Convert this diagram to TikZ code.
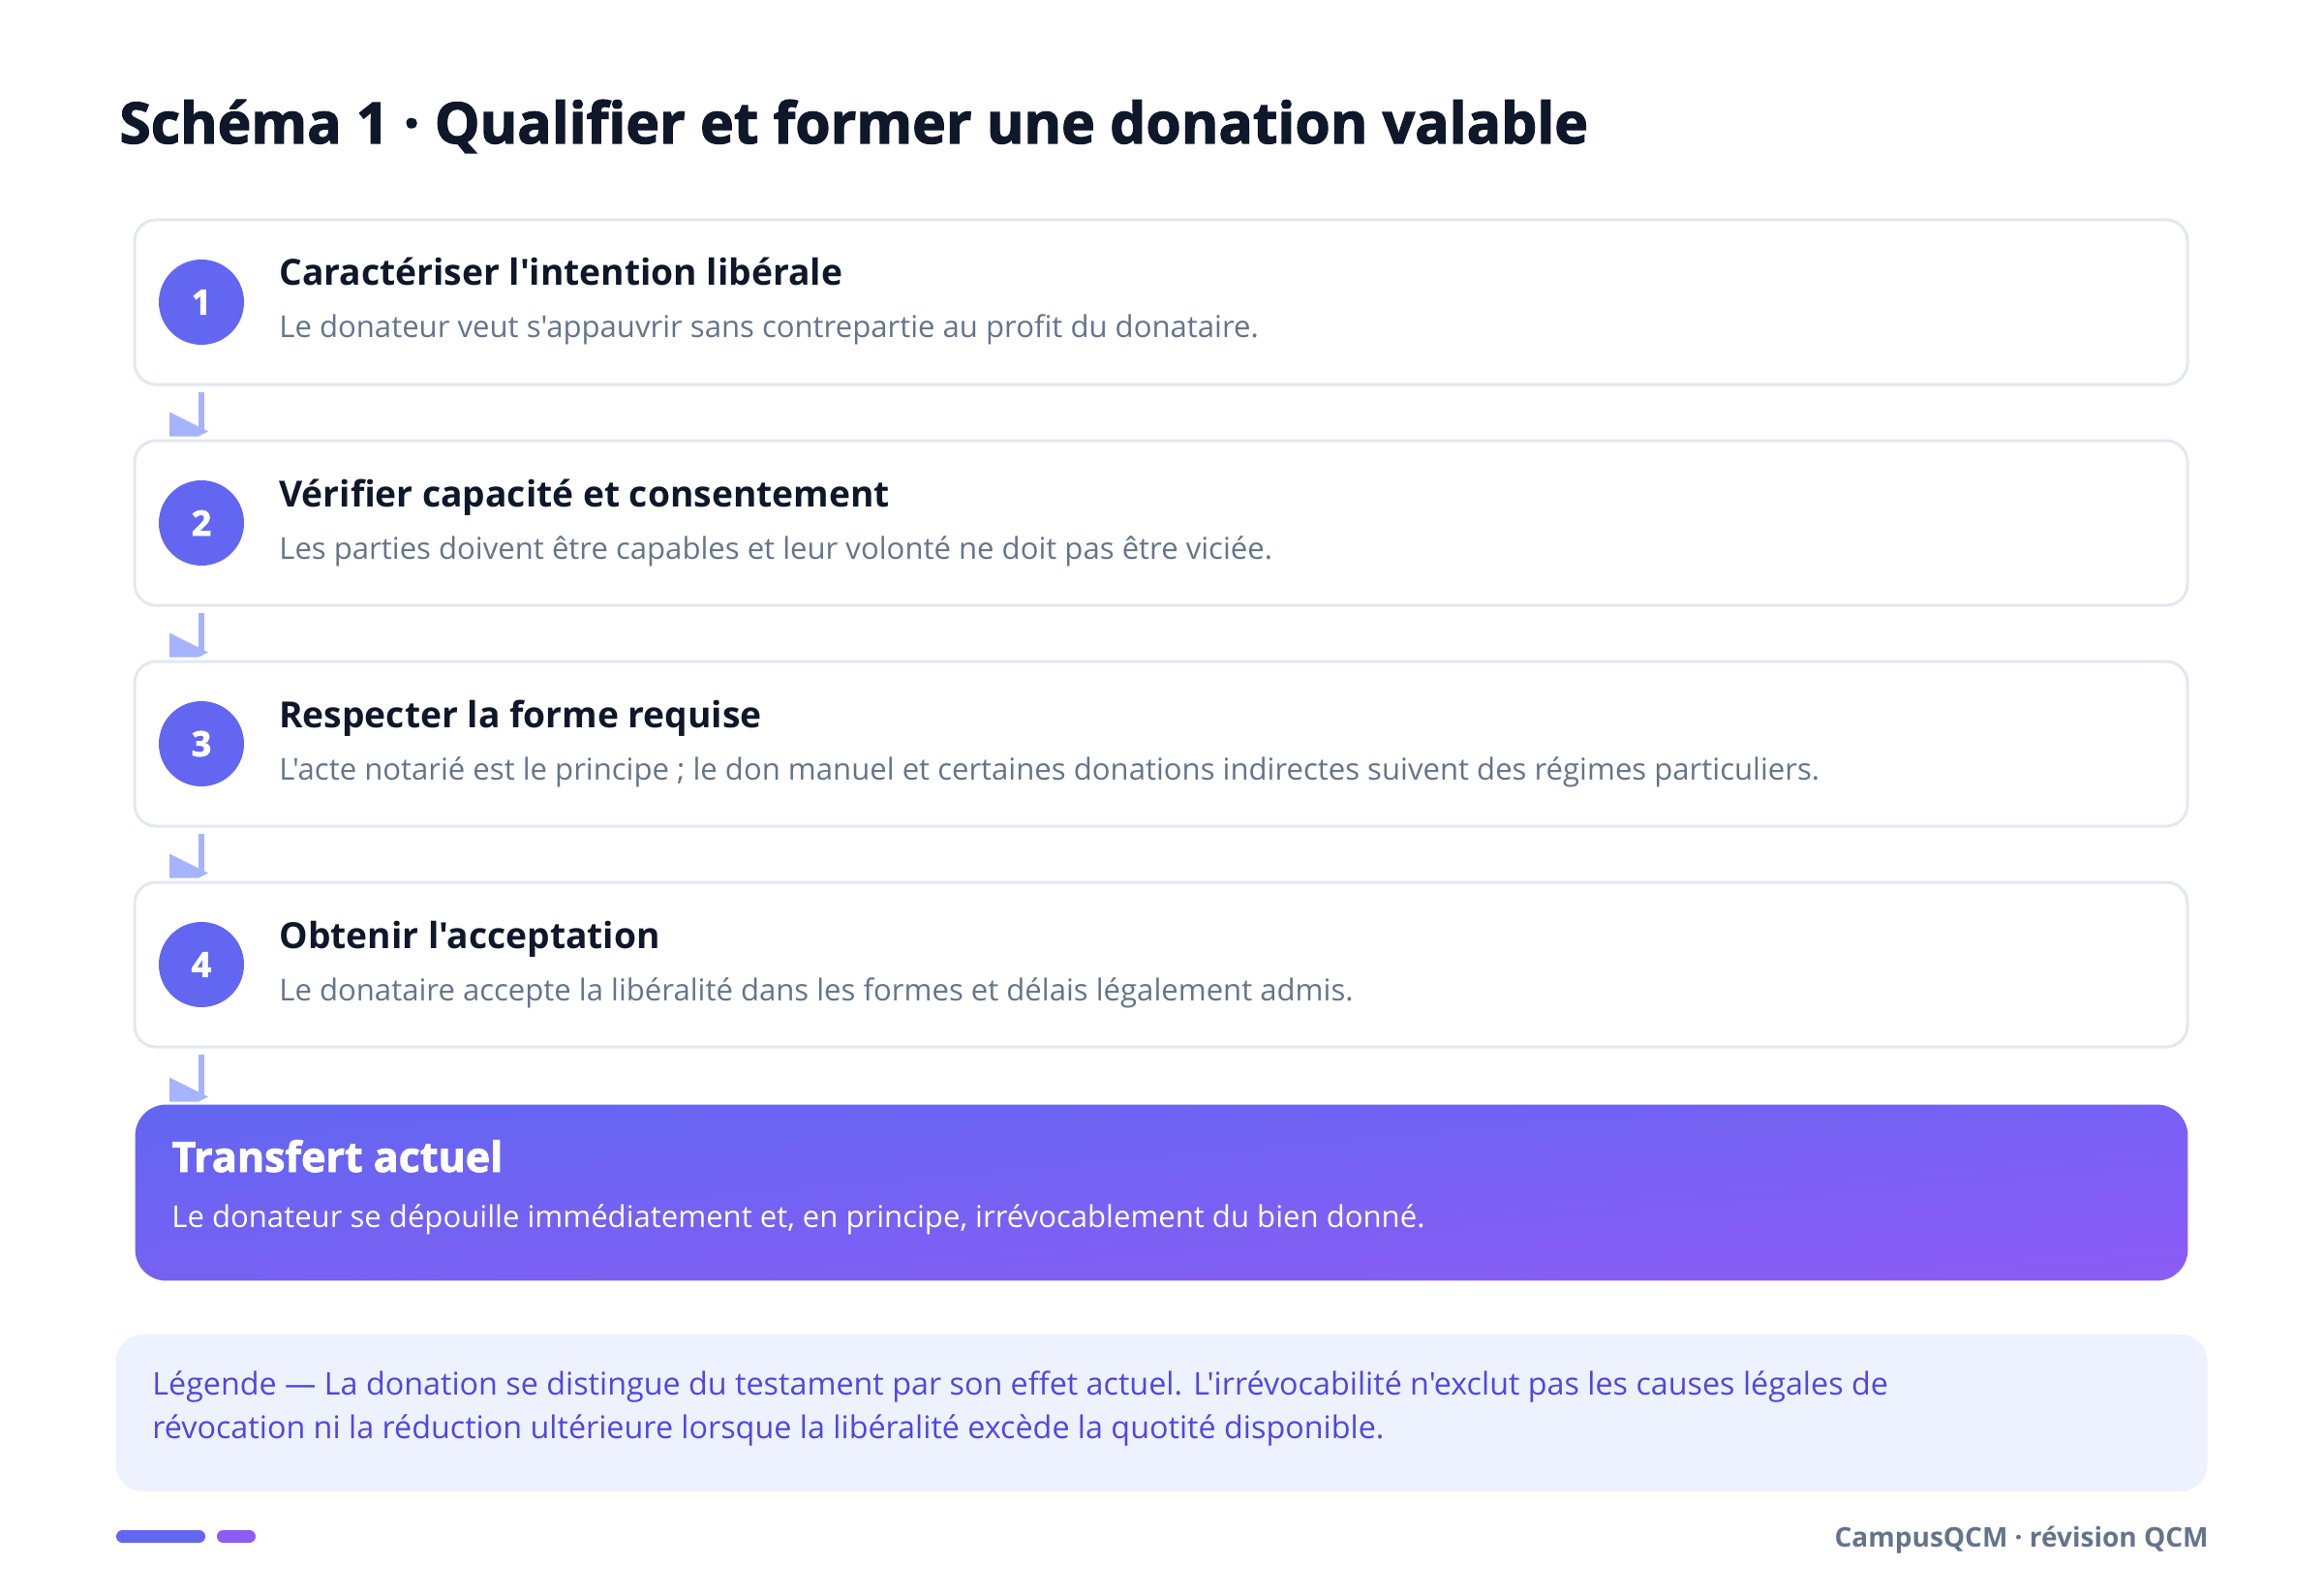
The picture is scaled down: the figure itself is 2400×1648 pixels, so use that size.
\documentclass[tikz,border=0pt]{standalone}
\usepackage{fontspec}
\setmainfont{Open Sans}[Ligatures=TeXOff]
\newfontfamily\heavyfont{Open Sans}[Ligatures=TeXOff, BoldFeatures={FakeBold=2}]
\usetikzlibrary{calc}
\definecolor{ink}{HTML}{0F172A}
\definecolor{muted}{HTML}{64748B}
\definecolor{bordergray}{HTML}{E2E8F0}
\definecolor{indigo}{HTML}{6366F1}
\definecolor{violet}{HTML}{8B5CF6}
\definecolor{arrowc}{HTML}{A5B4FC}
\definecolor{legendbg}{HTML}{EEF2FF}
\definecolor{legendtx}{HTML}{4F46E5}
\tikzset{
  stepbox/.style={draw=bordergray, line width=1.5pt, fill=white, rounded corners=11pt,
    minimum width=1060pt, minimum height=85pt, inner sep=0pt},
  numdot/.style={circle, fill=indigo, minimum size=44pt, inner sep=0pt, text=white,
    font=\heavyfont\bfseries\fontsize{18}{20}\selectfont},
  steptitle/.style={anchor=base west, inner sep=0pt, text=ink, font=\bfseries\fontsize{18.6}{23}\selectfont},
  stepdesc/.style={anchor=base west, inner sep=0pt, text=muted, font=\fontsize{15.55}{20}\selectfont},
  flowline/.style={draw=arrowc, line width=3pt},
  flowhead/.style={fill=arrowc},
}
\begin{document}
\begin{tikzpicture}[x=0.5pt, y=-0.5pt]
\useasboundingbox[fill=white] (0,0) rectangle (2400,1648);
% title
\node[anchor=base west, inner sep=0pt, text=ink, font=\heavyfont\bfseries\fontsize{29.4}{36}\selectfont] (title) at (123,148)
  {Schéma 1 · Qualifier et former une donation valable};
% steps
\node[stepbox] (b1) at (1199,312) {};
\node[stepbox] (b2) at (1199,540) {};
\node[stepbox] (b3) at (1199,768) {};
\node[stepbox] (b4) at (1199,996) {};
\node[numdot] (n1) at (208,312) {1};
\node[numdot] (n2) at (208,540) {2};
\node[numdot] (n3) at (208,768) {3};
\node[numdot] (n4) at (208,996) {4};
\node[steptitle] (t1) at (288,295) {Caractériser l'intention libérale};
\node[stepdesc] (d1) at (288,349) {Le donateur veut s'appauvrir sans contrepartie au profit du donataire.};
\node[steptitle] (t2) at (288,523) {Vérifier capacité et consentement};
\node[stepdesc] (d2) at (288,577) {Les parties doivent être capables et leur volonté ne doit pas être viciée.};
\node[steptitle] (t3) at (288,751) {Respecter la forme requise};
\node[stepdesc] (d3) at (288,805) {L'acte notarié est le principe ; le don manuel et certaines donations indirectes suivent des régimes particuliers.};
\node[steptitle] (t4) at (288,979) {Obtenir l'acceptation};
\node[stepdesc] (d4) at (288,1033) {Le donataire accepte la libéralité dans les formes et délais légalement admis.};
% final box
\node[minimum width=1059.5pt, minimum height=90.5pt, inner sep=0pt] (fb) at (1199.5,1231.5) {};
\path[rounded corners=16pt, top color=indigo, bottom color=violet, shading angle=5]
  (fb.north west) rectangle (fb.south east);
\node[anchor=base west, inner sep=0pt, text=white, font=\heavyfont\bfseries\fontsize{21.5}{25}\selectfont] (ft) at (177,1210) {Transfert actuel};
\node[anchor=base west, inner sep=0pt, text=white, font=\fontsize{15.55}{20}\selectfont] (fd) at (177,1267)
  {Le donateur se dépouille immédiatement et, en principe, irrévocablement du bien donné.};
% connectors
\foreach \a/\b in {b1/b2, b2/b3, b3/b4, b4/fb} {
  \draw[flowline] ($(\a.south -| n1)+(0,6)$) -- ($(\b.north -| n1)+(0,-8)$);
  \fill[flowhead] ($(\b.north -| n1)+(-33,-28)$) -- ++(40,20) -- ++(-10,5) -- ++(-30,0) -- cycle;
}
% legend
\node[fill=legendbg, rounded corners=14pt, minimum width=1080pt, minimum height=81pt, inner sep=0pt] (leg) at (1199.5,1459) {};
\node[anchor=base west, inner sep=0pt, text=legendtx, font=\fontsize{16.15}{20}\selectfont] (l1) at (157,1440)
  {Légende — La donation se distingue du testament par son effet actuel. L'irrévocabilité n'exclut pas les causes légales de};
\node[anchor=base west, inner sep=0pt, text=legendtx, font=\fontsize{16.15}{20}\selectfont] (l2) at (157,1485)
  {révocation ni la réduction ultérieure lorsque la libéralité excède la quotité disponible.};
% footer
\fill[indigo, rounded corners=3.2pt] (120,1580) rectangle (212,1593);
\fill[violet, rounded corners=3.2pt] (224,1580) rectangle (264,1593);
\node[anchor=base east, inner sep=0pt, text=muted, font=\bfseries\fontsize{14}{17}\selectfont] (foot) at (2281,1597)
  {CampusQCM · révision QCM};
\end{tikzpicture}
\end{document}
